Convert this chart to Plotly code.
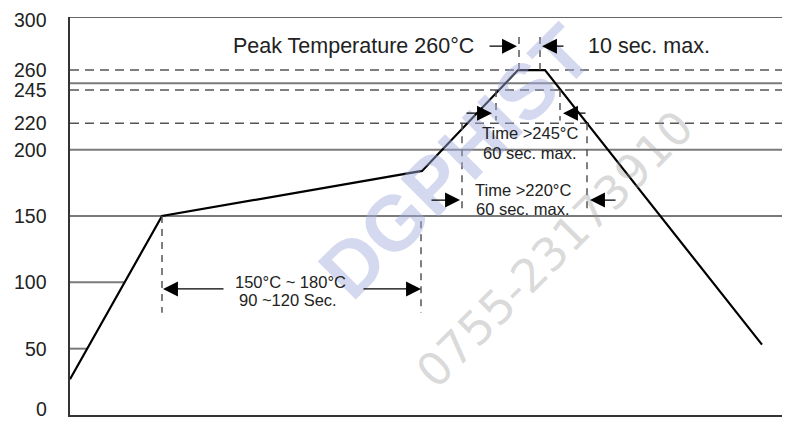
import numpy as np
import plotly.graph_objects as go

# ---- data -------------------------------------------------------------
profile_time = [0, 92, 352, 448, 475, 692]
profile_temp = [27, 150, 184, 260, 260, 53]

y_ticks = [0, 50, 100, 150, 200, 220, 245, 260, 300]
dashed_levels = [260, 245, 220]
solid_levels = [250, 200, 150]
short_levels = [100, 50]

peak_window = [449, 470]
above245_window = [426, 490]
above220_window = [392, 517]
preheat_window = [92, 351]

label_peak = "Peak Temperature 260°C"
label_peak_time = "10 sec. max."
label_245 = ["Time >245°C", "60 sec. max."]
label_220 = ["Time >220°C", "60 sec. max."]
label_preheat = ["150°C ~ 180°C", "90 ~120 Sec."]

X_MAX = 720
Y_MAX = 300
FONT = "Liberation Sans, Arial, sans-serif"
TXT = "#222222"

fig = go.Figure()

# watermark (faint)
fig.add_annotation(x=385, y=191, xref="x", yref="y", text="<b>DGPHIST</b>",
                   showarrow=False, textangle=-45,
                   font=dict(family=FONT, size=78, color="rgba(160,170,222,0.45)"))
fig.add_annotation(x=485, y=125, xref="x", yref="y", text="0755-23173910",
                   showarrow=False, textangle=-45,
                   font=dict(family="DejaVu Sans, sans-serif", size=46, color="rgba(150,150,150,0.35)"))

shapes = []
shapes.append(dict(type="line", xref="x", yref="y", x0=0, x1=X_MAX, y0=Y_MAX, y1=Y_MAX,
                   line=dict(color="#333333", width=1.5)))
for lv in solid_levels:
    shapes.append(dict(type="line", xref="x", yref="y", x0=0, x1=X_MAX, y0=lv, y1=lv,
                       line=dict(color="#7a7a7a", width=2), layer="below"))
for lv in dashed_levels:
    shapes.append(dict(type="line", xref="x", yref="y", x0=0, x1=X_MAX, y0=lv, y1=lv,
                       line=dict(color="#555555", width=1.5, dash="9px,6px"), layer="below"))
for lv in short_levels:
    xe = float(np.interp(lv, profile_temp[:2], profile_time[:2]))
    shapes.append(dict(type="line", xref="x", yref="y", x0=0, x1=xe, y0=lv, y1=lv,
                       line=dict(color="#7a7a7a", width=2), layer="below"))

vdash = dict(color="#555555", width=1.5, dash="7px,6px")
for t in peak_window:
    shapes.append(dict(type="line", xref="x", yref="y", x0=t, x1=t, y0=260, y1=285, line=vdash))
for t in above245_window:
    shapes.append(dict(type="line", xref="x", yref="y", x0=t, x1=t, y0=245, y1=222, line=vdash))
for t in above220_window:
    shapes.append(dict(type="line", xref="x", yref="y", x0=t, x1=t, y0=220, y1=155, line=vdash))
shapes.append(dict(type="line", xref="x", yref="y", x0=preheat_window[0], x1=preheat_window[0],
                   y0=150, y1=77, line=vdash))
shapes.append(dict(type="line", xref="x", yref="y", x0=preheat_window[1], x1=preheat_window[1],
                   y0=146, y1=77, line=vdash))

fig.update_layout(shapes=shapes)

fig.add_trace(go.Scatter(x=profile_time, y=profile_temp, mode="lines",
                         line=dict(color="#000000", width=2.2), hoverinfo="skip",
                         showlegend=False))


def arrow(x_head, x_tail, y):
    fig.add_annotation(x=x_head, y=y, ax=x_tail, ay=y, xref="x", yref="y",
                       axref="x", ayref="y", text="", showarrow=True,
                       arrowhead=2, arrowsize=2.3, arrowwidth=1.3, arrowcolor="#000000",
                       standoff=0, startstandoff=0)


arrow(peak_window[0] - 2, peak_window[0] - 31, 278)
arrow(peak_window[1] + 2, peak_window[1] + 25, 278)
arrow(above245_window[0] - 4, above245_window[0] - 31, 227.5)
arrow(above245_window[1] + 3, above245_window[1] + 27, 227.5)
arrow(above220_window[0] - 2, above220_window[0] - 32, 162)
arrow(above220_window[1] + 3, above220_window[1] + 30, 162)
arrow(preheat_window[0] + 1, preheat_window[0] + 63, 95)
arrow(preheat_window[1], preheat_window[1] - 59, 95)


def text(x, y, s, size, anchor="center"):
    fig.add_annotation(x=x, y=y, xref="x", yref="y", text=s, showarrow=False,
                       xanchor=anchor, yanchor="middle",
                       font=dict(family=FONT, size=size, color=TXT))


text(406, 278, label_peak, 21.5, "right")
text(516, 278, label_peak_time, 21.5, "left")
text(460, 212.5, label_245[0], 16.5)
text(460, 197.5, label_245[1], 16.5)
text(453, 169.5, label_220[0], 16.5)
text(453, 155.5, label_220[1], 16.5)
text(220, 100.5, label_preheat[0], 16.5)
text(218, 86.8, label_preheat[1], 16.5)

# y tick labels (placed on the y scale; the two end labels kept inside the page)
for v in y_ticks:
    if v == Y_MAX:
        ya, ys = "top", 9
    elif v == 0:
        ya, ys = "bottom", -6
    else:
        ya, ys = "middle", 0
    fig.add_annotation(x=-0.0305, y=v, xref="paper", yref="y", text=str(v),
                       showarrow=False, xanchor="right", yanchor=ya, yshift=ys,
                       borderpad=0,
                       font=dict(family=FONT, size=19.5, color=TXT))

fig.update_xaxes(range=[0, X_MAX], showgrid=False, zeroline=False, showticklabels=False,
                 showline=True, linecolor="#333333", linewidth=1.5, ticks="",
                 automargin=False)
fig.update_yaxes(range=[0, Y_MAX], showgrid=False, zeroline=False, showticklabels=False,
                 showline=True, linecolor="#333333", linewidth=1.5, ticks="",
                 automargin=False)

# page body has an 8px margin: size the figure so the plot area lands at x 70..790, y 17..415
fig.update_layout(width=782, height=413, margin=dict(l=62, r=0, t=9, b=6, autoexpand=False),
                  plot_bgcolor="white", paper_bgcolor="white", showlegend=False)

fig.write_html("out.html")
